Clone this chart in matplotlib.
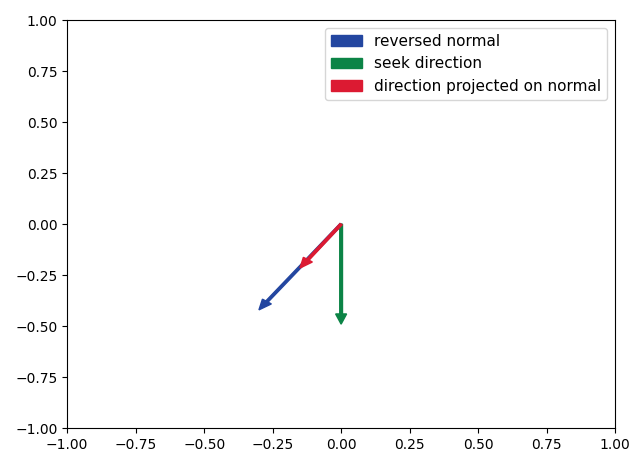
import matplotlib
matplotlib.use("Agg")
import matplotlib.pyplot as plt

# vectors drawn from the origin
labels = ["reversed normal", "seek direction", "direction projected on normal"]
dx = [-0.30, 0.0, -0.15]
dy = [-0.42, -0.49, -0.215]
colors = ["#2346a0", "#0c8446", "#dc1a32"]

fig = plt.figure(figsize=(6.4, 4.57), dpi=100)
ax = fig.add_axes([0.105, 0.063, 0.856, 0.893])

for lab, x, y, c in zip(labels, dx, dy, colors):
    ax.arrow(0, 0, x, y, color=c, width=0.01, head_width=0.04,
             head_length=0.05, length_includes_head=True, label=lab)

ax.set_xlim(-1, 1)
ax.set_ylim(-1, 1)
ax.legend(loc="upper right", fontsize=11)

fig.savefig("out.png", dpi=100)
